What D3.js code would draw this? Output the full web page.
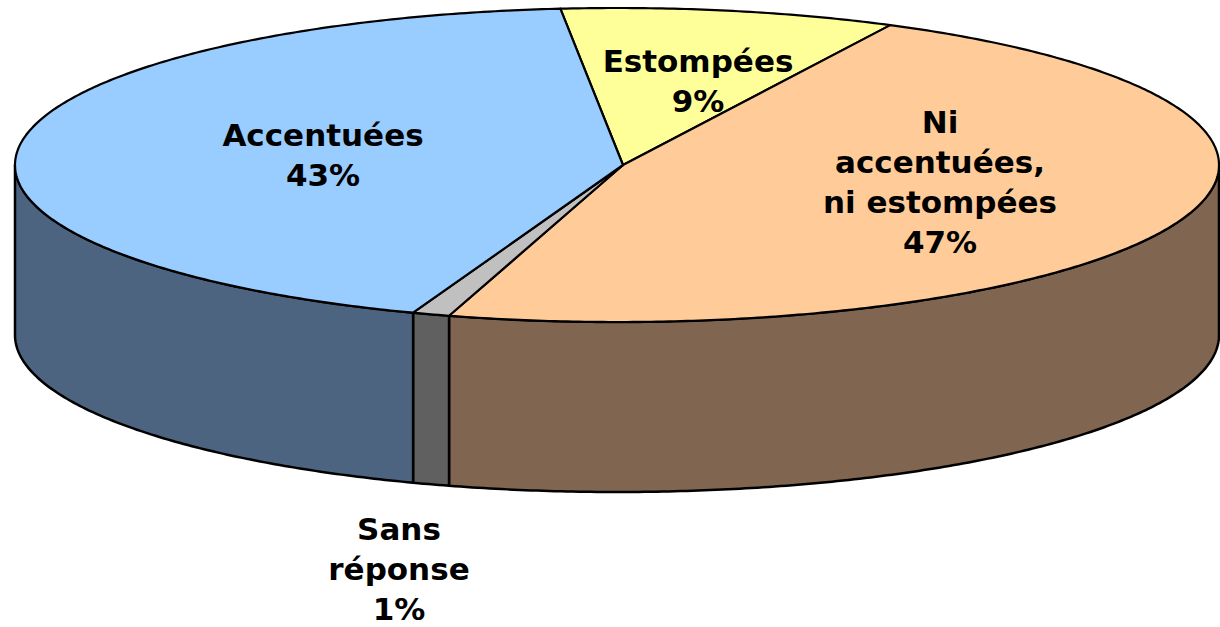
<!DOCTYPE html>
<html>
<head>
    <meta charset="utf-8">
    <script type="text/javascript" src="https://d3js.org/d3.v7.min.js"></script>
    <style>
        body {
            background: #ffffff;
            margin: 0;
            padding: 0;
        }
        .label {
            font-family: "DejaVu Sans", Verdana, sans-serif;
            font-weight: bold;
            font-size: 31px;
            fill: #000000;
        }
    </style>
</head>
<body>
    <div id="chart"></div>
    <script>
        // data, clockwise from the top
        var categories = ["Estompées", "Ni accentuées, ni estompées", "Sans réponse", "Accentuées"];
        var values = [9, 47, 1, 43];
        var labelLines = [
            ["Estompées", "9%"],
            ["Ni", "accentuées,", "ni estompées", "47%"],
            ["Sans", "réponse", "1%"],
            ["Accentuées", "43%"]
        ];
        var topColors = ["#FFFF99", "#FFCC99", "#C0C0C0", "#99CCFF"];
        var sideColors = ["#80804D", "#806650", "#606060", "#4D6480"];

        var width = 1220, height = 627;
        var cx = 617, cy = 165, rx = 602, ry = 157, depth = 170;
        var apex = [623, 165]; // where the slices meet on the top face

        // where the text blocks sit (centre x, first baseline)
        var labelAt = [[698, 72], [940, 133], [399, 540], [323, 146]];
        var lineStep = 40;

        var svg = d3.select("#chart")
            .append("svg")
            .attr("width", width)
            .attr("height", height);

        var pie = d3.pie()
            .sort(null)
            .startAngle(-5.4 * Math.PI / 180)
            .endAngle(-5.4 * Math.PI / 180 + 2 * Math.PI);

        var arcs = pie(values);

        function pt(a, dy) {
            return [cx + rx * Math.sin(a), cy - ry * Math.cos(a) + (dy || 0)];
        }

        function samples(a0, a1, dy) {
            var n = Math.max(4, Math.ceil(Math.abs(a1 - a0) / 0.01));
            return d3.range(n + 1).map(function(i) {
                return pt(a0 + (a1 - a0) * i / n, dy);
            });
        }

        var line = d3.line();

        // outer walls, only the front half (angles between 90 and 270 deg)
        arcs.forEach(function(d, i) {
            var lo = Math.PI / 2, hi = 3 * Math.PI / 2;
            var segs = [];
            [0, 2 * Math.PI, -2 * Math.PI].forEach(function(off) {
                var a0 = Math.max(d.startAngle + off, lo);
                var a1 = Math.min(d.endAngle + off, hi);
                if (a1 > a0) segs.push([a0, a1]);
            });
            segs.forEach(function(s) {
                var top = samples(s[0], s[1], 0);
                var bottom = samples(s[1], s[0], depth);
                svg.append("path")
                    .attr("d", line(top.concat(bottom)) + "Z")
                    .attr("fill", sideColors[i])
                    .attr("stroke", "#000")
                    .attr("stroke-width", 2.5)
                    .attr("stroke-linejoin", "round");
            });
        });

        // top faces
        svg.selectAll("path.top")
            .data(arcs)
            .enter().append("path")
            .attr("class", "top")
            .attr("d", function(d) {
                var p = [apex].concat(samples(d.startAngle, d.endAngle, 0));
                return line(p) + "Z";
            })
            .attr("fill", function(d, i) { return topColors[i]; })
            .attr("stroke", "#000")
            .attr("stroke-width", 2.2)
            .attr("stroke-linejoin", "round");

        // labels
        var labels = svg.selectAll("text.label")
            .data(arcs)
            .enter().append("text")
            .attr("class", "label")
            .attr("text-anchor", "middle");

        labels.each(function(d, i) {
            var t = d3.select(this);
            labelLines[i].forEach(function(s, j) {
                t.append("tspan")
                    .attr("x", labelAt[i][0])
                    .attr("y", labelAt[i][1] + j * lineStep)
                    .text(s);
            });
        });
    </script>
</body>
</html>
